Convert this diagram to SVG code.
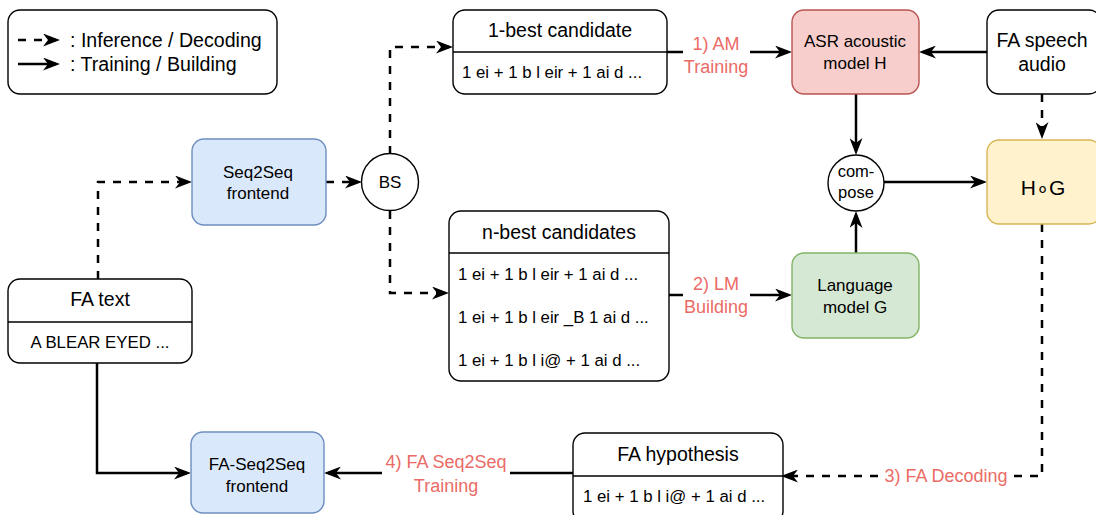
<svg xmlns="http://www.w3.org/2000/svg" width="1096" height="515" viewBox="0 0 1096 515">
<defs>
<style>
text{font-family:"Liberation Sans",Arial,Helvetica,sans-serif;fill:#000}
.box{fill:#fff;stroke:#000;stroke-width:1.4}
.blue{fill:#dae8fc;stroke:#6c8ebf;stroke-width:1.4}
.red{fill:#f8cecc;stroke:#b85450;stroke-width:1.4}
.green{fill:#d5e8d4;stroke:#82b366;stroke-width:1.4}
.yellow{fill:#fff2cc;stroke:#d6b656;stroke-width:1.4}
.div{stroke:#000;stroke-width:1.4}
.c{stroke:#000;stroke-width:2.5;fill:none;marker-end:url(#ah)}
.d{stroke-dasharray:8 8}
.hd{font-size:19.5px;text-anchor:middle}
.bd{font-size:16.8px}
.nd{font-size:17px;text-anchor:middle}
.lg{font-size:19.6px}
.lb{font-size:18px;fill:#ea6b66;text-anchor:middle}
.bg{fill:#fff}
</style>
<marker id="ah" viewBox="0 0 17 13" markerWidth="17" markerHeight="13" refX="13" refY="6.5" orient="auto" markerUnits="userSpaceOnUse">
<path d="M0,0 L17,6.5 L0,13 L5,6.5 Z" fill="#000"/>
</marker>
</defs>

<g id="legend">
<rect class="box" x="8" y="10" width="269" height="84" rx="12"/>
<path class="c d" d="M18,40 H56"/>
<path class="c" d="M18,64 H56"/>
<text class="lg" x="70" y="47">: Inference / Decoding</text>
<text class="lg" x="70" y="71">: Training / Building</text>
</g>

<g id="connectors">
<path class="c d" d="M326,182 H358"/>
<path class="c d" d="M390,154 V47 H449"/>
<path class="c d" d="M390,211 V293 H445"/>
<path class="c d" d="M98,279 V182 H188"/>
<path class="c" d="M97,363 V473 H187"/>
<path class="c" d="M667,52 H788"/>
<path class="c" d="M669,295 H788"/>
<path class="c" d="M987,52 H923"/>
<path class="c" d="M856,94 V151"/>
<path class="c" d="M856,253 V215"/>
<path class="c" d="M884,182 H983"/>
<path class="c d" d="M1042,94 V135"/>
<path class="c d" d="M1042,224 V476 H785"/>
<path class="c" d="M573,473 H328"/>
<rect class="bg" x="683" y="33" width="67" height="44"/>
<text class="lb" x="716" y="50">1) AM</text>
<text class="lb" x="716" y="73">Training</text>
<rect class="bg" x="683" y="273" width="67" height="44"/>
<text class="lb" x="716" y="290">2) LM</text>
<text class="lb" x="716" y="313">Building</text>
<rect class="bg" x="880" y="462" width="132" height="26"/>
<text class="lb" x="946" y="482">3) FA Decoding</text>
<rect class="bg" x="382" y="450" width="128" height="48"/>
<text class="lb" x="446" y="468">4) FA Seq2Seq</text>
<text class="lb" x="446" y="492">Training</text>
</g>

<g id="seq2seq">
<rect class="blue" x="192" y="139" width="134" height="86" rx="12"/>
<text class="nd" x="258" y="178">Seq2Seq</text>
<text class="nd" x="258" y="199">frontend</text>
</g>

<g id="bs">
<circle class="box" cx="390" cy="182" r="28.5"/>
<text class="nd" x="390" y="188">BS</text>
</g>

<g id="onebest">
<rect class="box" x="453" y="10" width="214" height="84" rx="12"/>
<line class="div" x1="453" y1="52" x2="667" y2="52"/>
<text class="hd" x="560" y="37">1-best candidate</text>
<text class="bd" x="462" y="78">1 ei + 1 b l eir + 1 ai d ...</text>
</g>

<g id="nbest">
<rect class="box" x="449" y="211" width="220" height="170" rx="12"/>
<line class="div" x1="449" y1="253" x2="669" y2="253"/>
<text class="hd" x="559" y="239">n-best candidates</text>
<text class="bd" x="458" y="280">1 ei + 1 b l eir + 1 ai d ...</text>
<text class="bd" x="458" y="323">1 ei + 1 b l eir _B 1 ai d ...</text>
<text class="bd" x="458" y="366">1 ei + 1 b l i@ + 1 ai d ...</text>
</g>

<g id="fatext">
<rect class="box" x="8" y="279" width="184" height="84" rx="12"/>
<line class="div" x1="8" y1="322" x2="192" y2="322"/>
<text class="hd" x="100" y="306">FA text</text>
<text class="bd" x="100" y="348" text-anchor="middle">A BLEAR EYED ...</text>
</g>

<g id="faseq2seq">
<rect class="blue" x="191" y="432" width="133" height="81" rx="12"/>
<text class="nd" x="257" y="470">FA-Seq2Seq</text>
<text class="nd" x="257" y="492">frontend</text>
</g>

<g id="fahyp">
<rect class="box" x="573" y="433" width="210" height="90" rx="12"/>
<line class="div" x1="573" y1="476" x2="783" y2="476"/>
<text class="hd" x="678" y="461">FA hypothesis</text>
<text class="bd" x="583" y="502">1 ei + 1 b l i@ + 1 ai d ...</text>
</g>

<g id="asr">
<rect class="red" x="792" y="10" width="127" height="84" rx="12"/>
<text class="nd" x="855" y="47">ASR acoustic</text>
<text class="nd" x="855" y="69">model H</text>
</g>

<g id="faspeech">
<rect class="box" x="987" y="10" width="114" height="84" rx="12"/>
<text class="hd" x="1042" y="47">FA speech</text>
<text class="hd" x="1042" y="71">audio</text>
</g>

<g id="compose">
<circle class="box" cx="856" cy="183" r="28"/>
<text class="nd" x="856" y="177" style="font-size:16.5px">com-</text>
<text class="nd" x="856" y="198" style="font-size:16.5px">pose</text>
</g>

<g id="hg">
<rect class="yellow" x="987" y="140" width="114" height="84" rx="12"/>
<text class="hd" x="1043" y="195" style="font-size:21px">H∘G</text>
</g>

<g id="lm">
<rect class="green" x="792" y="253" width="127" height="85" rx="12"/>
<text class="nd" x="855" y="291">Language</text>
<text class="nd" x="855" y="313">model G</text>
</g>
</svg>
